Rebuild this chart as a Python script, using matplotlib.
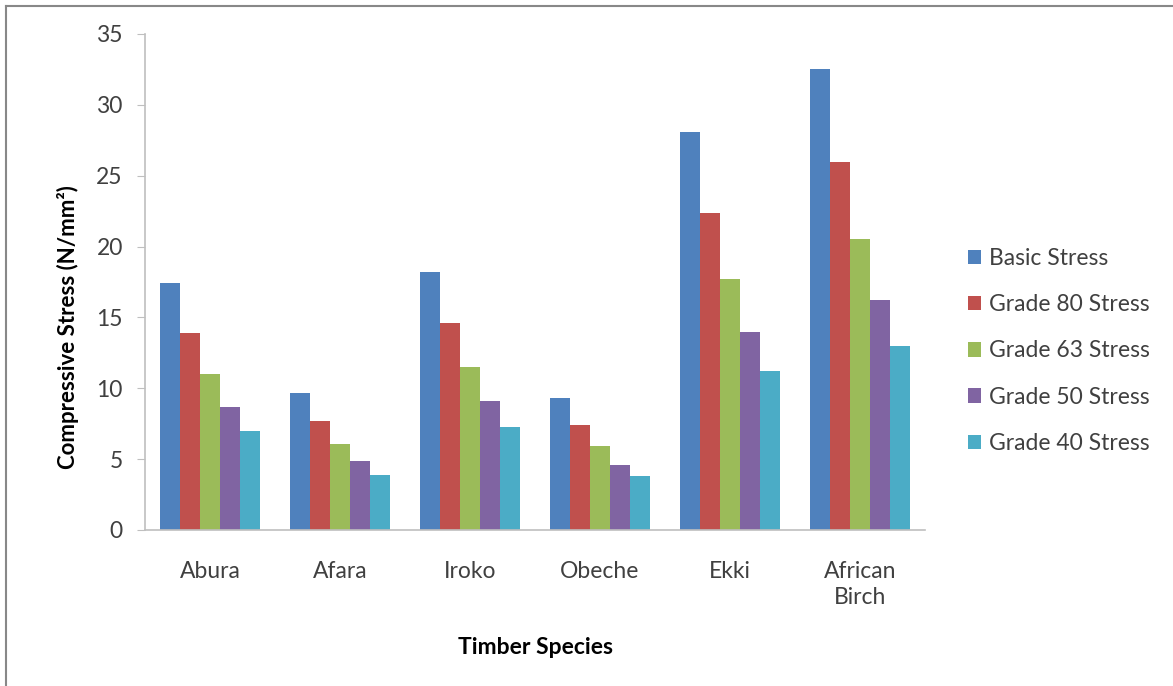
import matplotlib.pyplot as plt
import numpy as np
from matplotlib.lines import Line2D

plt.rcParams['font.family'] = ['Lato', 'DejaVu Sans']

species = ['Abura', 'Afara', 'Iroko', 'Obeche', 'Ekki', 'African\nBirch']
series_names = ['Basic Stress', 'Grade 80 Stress', 'Grade 63 Stress',
                'Grade 50 Stress', 'Grade 40 Stress']
basic = [17.4, 9.7, 18.2, 9.3, 28.1, 32.5]
grade80 = [13.9, 7.7, 14.6, 7.4, 22.4, 26.0]
grade63 = [11.0, 6.1, 11.5, 5.9, 17.7, 20.5]
grade50 = [8.7, 4.9, 9.1, 4.6, 14.0, 16.2]
grade40 = [7.0, 3.9, 7.3, 3.8, 11.2, 13.0]
colors = ['#4F81BD', '#C0504D', '#9BBB59', '#8064A2', '#4BACC6']

fig = plt.figure(figsize=(11.73, 6.86), dpi=100)
ax = fig.add_axes([145 / 1173, 1 - 530 / 686, 780 / 1173, 496 / 686])

x = np.arange(len(species))
w = 0.77 / 5
for i, (vals, name) in enumerate(zip([basic, grade80, grade63, grade50, grade40], series_names)):
    ax.bar(x + (i - 2) * w, vals, width=w, color=colors[i], label=name)

ax.set_xlim(-0.5, len(species) - 0.5)
ax.set_ylim(0, 35)
ax.set_yticks(range(0, 36, 5))
ax.set_xticks(x)
ax.set_xticklabels(species, linespacing=1.3)

for s in ['top', 'right']:
    ax.spines[s].set_visible(False)
for s in ['left', 'bottom']:
    ax.spines[s].set_color('#BFBFBF')
    ax.spines[s].set_linewidth(1.2)

ax.tick_params(axis='y', length=6, color='#BFBFBF', pad=10, labelsize=16.5, labelcolor='#404040')
ax.tick_params(axis='x', length=0, pad=22, labelsize=16.5, labelcolor='#404040')

fig.text(68 / 1173, 1 - 327 / 686, 'Compressive Stress (N/mm²)', rotation=90,
         ha='center', va='center', fontsize=16, fontweight='bold', color='black')
fig.text(535 / 1173, 1 - 648 / 686, 'Timber Species', ha='center', va='center',
         fontsize=16.5, fontweight='bold', color='black')

ax.legend(loc='center left', bbox_to_anchor=(947 / 1173, 1 - 351 / 686),
          bbox_transform=fig.transFigure, frameon=False, fontsize=16.5,
          handlelength=0.6, handleheight=0.6, handletextpad=0.35,
          labelspacing=1.1, labelcolor='#404040')

# outer chart border
fig.add_artist(Line2D([6 / 1173, 6 / 1173], [0, 1 - 6 / 686], transform=fig.transFigure,
                      color='#888888', linewidth=1.5))
fig.add_artist(Line2D([6 / 1173, 1], [1 - 6 / 686, 1 - 6 / 686], transform=fig.transFigure,
                      color='#888888', linewidth=1.5))

fig.savefig('out.png', dpi=100)
